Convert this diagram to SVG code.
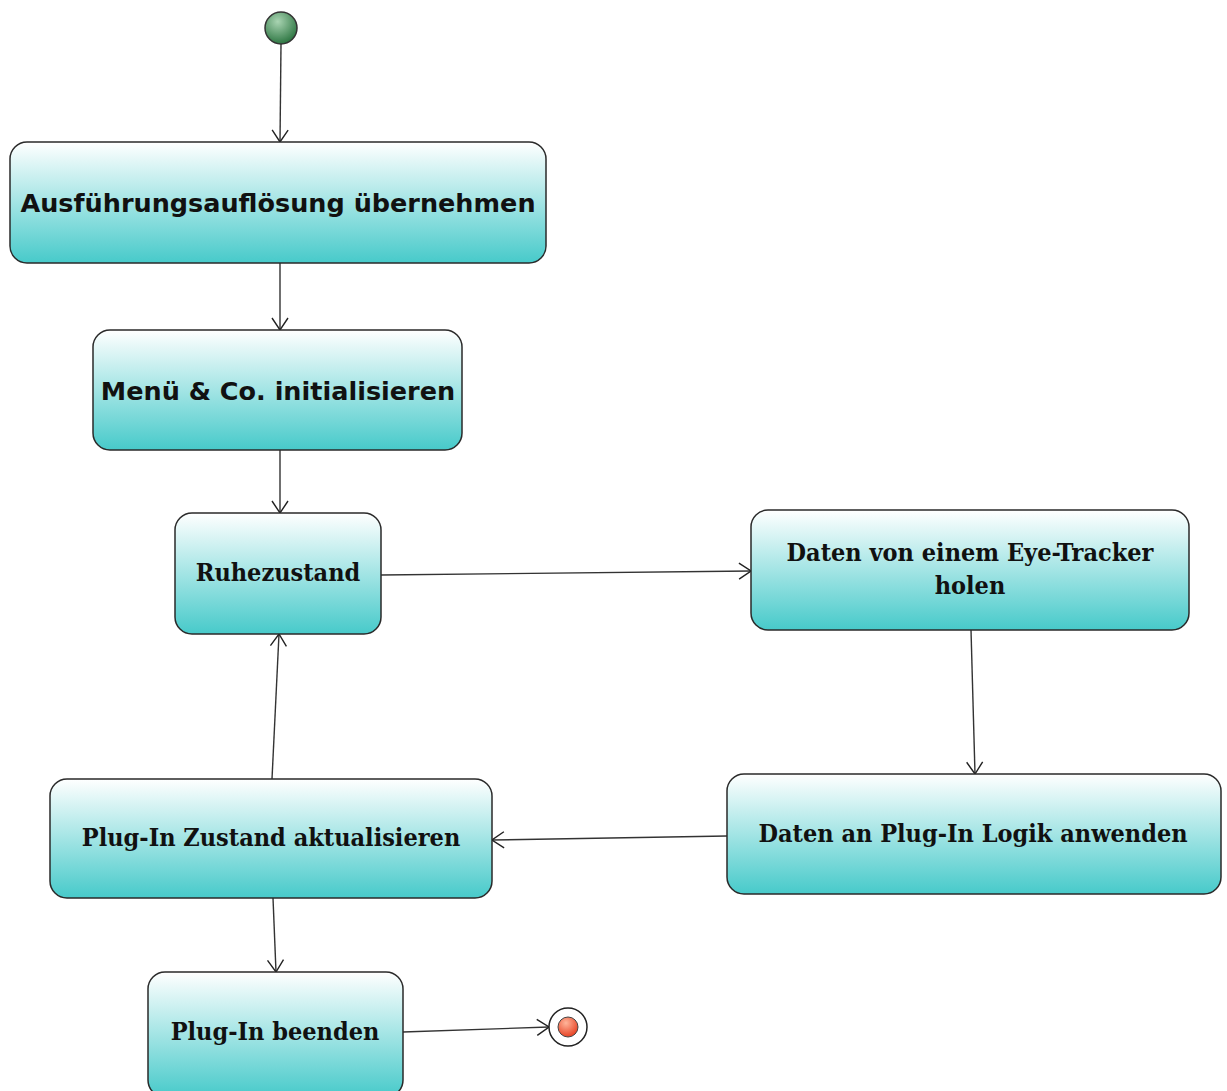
<svg xmlns="http://www.w3.org/2000/svg" width="1227" height="1091" viewBox="0 0 1227 1091">
  <defs>
    <linearGradient id="boxFill" x1="0" y1="0" x2="0" y2="1">
      <stop offset="0" stop-color="#ffffff"/>
      <stop offset="1" stop-color="#47caca"/>
    </linearGradient>
    <radialGradient id="startFill" cx="0.4" cy="0.3" r="0.75">
      <stop offset="0" stop-color="#a9d4b2"/>
      <stop offset="1" stop-color="#25703b"/>
    </radialGradient>
    <radialGradient id="endFill" cx="0.4" cy="0.3" r="0.75">
      <stop offset="0" stop-color="#ffb59a"/>
      <stop offset="1" stop-color="#e53a1c"/>
    </radialGradient>
    <marker id="arrow" viewBox="0 0 14 18" refX="13" refY="9" markerWidth="14" markerHeight="18" markerUnits="userSpaceOnUse" orient="auto">
      <path d="M1,1 L13,9 L1,17" fill="none" stroke="#222" stroke-width="1.4"/>
    </marker>
  </defs>
  <style>
    .box { fill: url(#boxFill); stroke: #2a2a2a; stroke-width: 1.5; }
    .sans { font-family: "DejaVu Sans", "Liberation Sans", sans-serif; font-weight: bold; font-size: 25.5px; fill: #111; text-anchor: middle; }
    .serif { font-family: "DejaVu Serif", "Liberation Serif", serif; font-stretch: condensed; font-weight: bold; font-size: 25px; fill: #111; text-anchor: middle; }
    .edge { fill: none; stroke: #333; stroke-width: 1.4; marker-end: url(#arrow); }
  </style>

  <rect width="1227" height="1091" fill="#ffffff"/>

  <!-- connectors -->
  <g id="connectors">
    <line class="edge" x1="281" y1="44" x2="280" y2="142"/>
    <line class="edge" x1="280" y1="263" x2="280" y2="330"/>
    <line class="edge" x1="280" y1="450" x2="280" y2="513"/>
    <line class="edge" x1="381" y1="575" x2="751" y2="571"/>
    <line class="edge" x1="971" y1="630" x2="975" y2="774"/>
    <line class="edge" x1="727" y1="836" x2="492" y2="840"/>
    <line class="edge" x1="272" y1="779" x2="279" y2="634"/>
    <line class="edge" x1="273" y1="898" x2="276" y2="972"/>
    <line class="edge" x1="403" y1="1032" x2="549" y2="1027"/>
  </g>

  <!-- start node -->
  <g id="start">
    <circle cx="281" cy="28" r="16" fill="url(#startFill)" stroke="#333" stroke-width="1.5"/>
  </g>

  <g id="ausfuehrung">
    <rect class="box" x="10" y="142" width="536" height="121" rx="17"/>
    <text class="sans" x="278" y="212">Ausführungsauflösung übernehmen</text>
  </g>

  <g id="menue">
    <rect class="box" x="93" y="330" width="369" height="120" rx="17"/>
    <text class="sans" x="278" y="400">Menü &amp; Co. initialisieren</text>
  </g>

  <g id="ruhezustand">
    <rect class="box" x="175" y="513" width="206" height="121" rx="17"/>
    <text class="serif" x="278" y="581">Ruhezustand</text>
  </g>

  <g id="eyetracker">
    <rect class="box" x="751" y="510" width="438" height="120" rx="17"/>
    <text class="serif" x="970" y="561">Daten von einem Eye-Tracker</text>
    <text class="serif" x="970" y="594">holen</text>
  </g>

  <g id="logik">
    <rect class="box" x="727" y="774" width="494" height="120" rx="17"/>
    <text class="serif" x="973" y="842">Daten an Plug-In Logik anwenden</text>
  </g>

  <g id="aktualisieren">
    <rect class="box" x="50" y="779" width="442" height="119" rx="17"/>
    <text class="serif" x="271" y="846">Plug-In Zustand aktualisieren</text>
  </g>

  <g id="beenden">
    <rect class="box" x="148" y="972" width="255" height="125" rx="17"/>
    <text class="serif" x="275" y="1040">Plug-In beenden</text>
  </g>

  <!-- final node -->
  <g id="end">
    <circle cx="568" cy="1027" r="19" fill="#ffffff" stroke="#222" stroke-width="1.5"/>
    <circle cx="568" cy="1027" r="10" fill="url(#endFill)" stroke="#444" stroke-width="1"/>
  </g>
</svg>
